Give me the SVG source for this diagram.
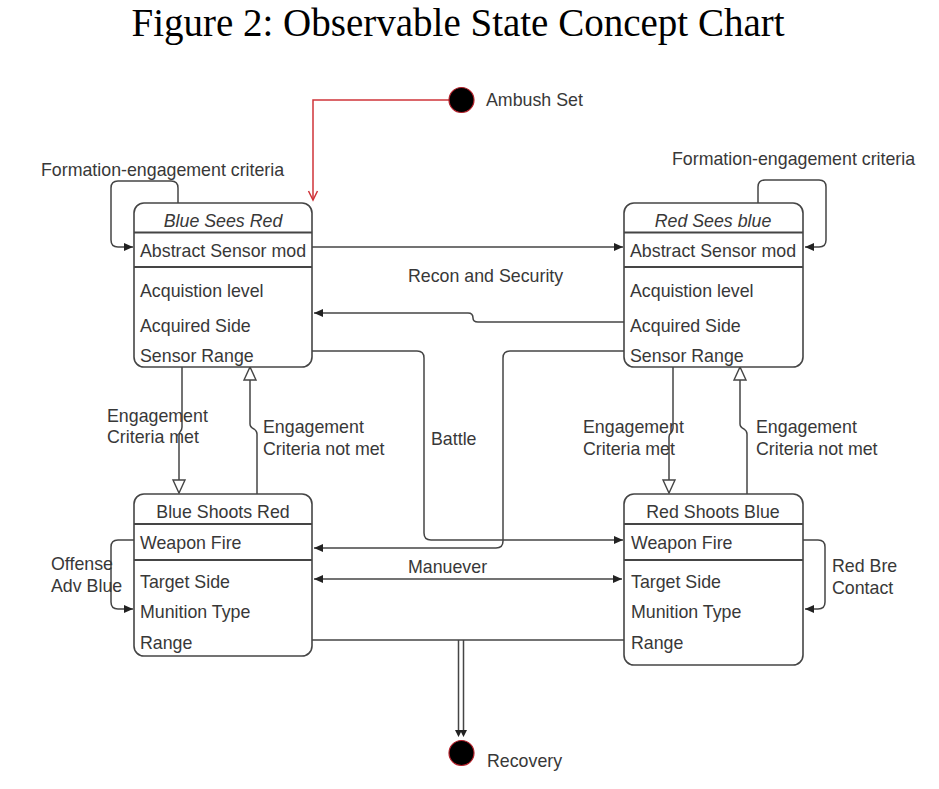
<svg xmlns="http://www.w3.org/2000/svg" width="939" height="789" viewBox="0 0 939 789">
<style>
.bg{fill:#fff}
.box{fill:#fff;stroke:#454545;stroke-width:1.6}
.div{stroke:#454545;stroke-width:1.8}
.ln{fill:none;stroke:#454545;stroke-width:1.5}
.red{fill:none;stroke:#d0343a;stroke-width:1.5}
.t{font-family:"Liberation Sans",Arial,sans-serif;font-size:17.8px;fill:#383838}
.h{text-anchor:middle}
.i{font-style:italic}
.title{font-family:"Liberation Serif","Times New Roman",serif;font-size:39px;fill:#000;text-anchor:middle}
.dot{fill:#000;stroke:#b3202a;stroke-width:1.2}
</style>
<defs>
<marker id="fa" markerUnits="userSpaceOnUse" markerWidth="12" markerHeight="12" refX="9" refY="4" orient="auto-start-reverse" overflow="visible">
<path d="M0,0 L9,4 L0,8 z" fill="#222"/>
</marker>
<marker id="ha" markerUnits="userSpaceOnUse" markerWidth="16" markerHeight="16" refX="13" refY="6" orient="auto" overflow="visible">
<path d="M0,0 L13,6 L0,12 z" fill="#fff" stroke="#454545" stroke-width="1.4"/>
</marker>
<marker id="ra" markerUnits="userSpaceOnUse" markerWidth="12" markerHeight="12" refX="9" refY="4.5" orient="auto" overflow="visible">
<path d="M0,0 L9,4.5 L0,9" fill="none" stroke="#d0343a" stroke-width="1.5"/>
</marker>
</defs>
<rect class="bg" x="0" y="0" width="939" height="789"/>
<text class="title" x="458" y="36">Figure 2: Observable State Concept Chart</text>

<g id="connectors">
<path class="red" d="M449,100 H313 V200" marker-end="url(#ra)"/>
<path class="ln" d="M178,203 V188 Q178,181 171,181 H118 Q111,181 111,188 V240 Q111,247 118,247 H133" marker-end="url(#fa)"/>
<path class="ln" d="M758,203 V187 Q758,180 765,180 H819 Q826,180 826,187 V240 Q826,247 819,247 H805" marker-end="url(#fa)"/>
<path class="ln" d="M312,247 H623" marker-end="url(#fa)"/>
<path class="ln" d="M624,322 H478 Q473,322 473,318 Q473,313 468,313 H314" marker-end="url(#fa)"/>
<path class="ln" d="M312,351 H417 Q424,351 424,358 V533 Q424,540 431,540 H623" marker-end="url(#fa)"/>
<path class="ln" d="M624,351 H510 Q503,351 503,358 V541 Q503,548 496,548 H314" marker-end="url(#fa)"/>
<path class="ln" d="M314,579 H622" marker-start="url(#fa)" marker-end="url(#fa)"/>
<path class="ln" d="M312,640 H624"/>
<path class="ln" d="M458.5,640 V731 M463.5,640 V731"/>
<path d="M455,730 L458.5,737 L462,730 z M460,730 L463.5,737 L467,730 z" fill="#222"/>
<path class="ln" d="M182,367 V427 Q182,430 180,432 Q179,433 179,436 V493" marker-end="url(#ha)"/>
<path class="ln" d="M257,494 V434 Q257,431 254,429 Q250,427 250,424 V367" marker-end="url(#ha)"/>
<path class="ln" d="M673,367 V428 Q673,431 671,433 Q669,434 669,437 V493" marker-end="url(#ha)"/>
<path class="ln" d="M747,494 V434 Q747,431 744,429 Q740,427 740,424 V367" marker-end="url(#ha)"/>
<path class="ln" d="M134,540 H118 Q111,540 111,547 V602 Q111,609 118,609 H133" marker-end="url(#fa)"/>
<path class="ln" d="M803,540 H818 Q825,540 825,547 V602 Q825,609 818,609 H805" marker-end="url(#fa)"/>
</g>

<g id="labels">
<text class="t" x="41" y="176">Formation-engagement criteria</text>
<text class="t" x="672" y="165">Formation-engagement criteria</text>
<text class="t" x="408" y="282">Recon and Security</text>
<text class="t" x="431" y="445">Battle</text>
<text class="t" x="408" y="573">Manuever</text>
<text class="t" x="107" y="422">Engagement</text>
<text class="t" x="107" y="443">Criteria met</text>
<text class="t" x="263" y="433">Engagement</text>
<text class="t" x="263" y="455">Criteria not met</text>
<text class="t" x="583" y="433">Engagement</text>
<text class="t" x="583" y="455">Criteria met</text>
<text class="t" x="756" y="433">Engagement</text>
<text class="t" x="756" y="455">Criteria not met</text>
<text class="t" x="51" y="570">Offense</text>
<text class="t" x="51" y="592">Adv Blue</text>
<text class="t" x="832" y="572">Red Bre</text>
<text class="t" x="832" y="594">Contact</text>
</g>

<g id="ambush">
<circle class="dot" cx="461.5" cy="100" r="12.5"/>
<text class="t" x="486" y="106">Ambush Set</text>
</g>

<g id="recovery">
<circle class="dot" cx="461.5" cy="753" r="12.5"/>
<text class="t" x="487" y="767">Recovery</text>
</g>

<g id="blue-sees-red">
<rect class="box" x="134" y="203" width="178" height="164" rx="10"/>
<line class="div" x1="134" y1="232.5" x2="312" y2="232.5"/>
<line class="div" x1="134" y1="267" x2="312" y2="267"/>
<text class="t h i" x="223" y="227">Blue Sees Red</text>
<text class="t" x="140" y="257">Abstract Sensor mod</text>
<text class="t" x="140" y="297">Acquistion level</text>
<text class="t" x="140" y="332">Acquired Side</text>
<text class="t" x="140" y="362">Sensor Range</text>
</g>

<g id="red-sees-blue">
<rect class="box" x="624" y="203" width="179" height="164" rx="10"/>
<line class="div" x1="624" y1="232.5" x2="803" y2="232.5"/>
<line class="div" x1="624" y1="267" x2="803" y2="267"/>
<text class="t h i" x="713" y="227">Red Sees blue</text>
<text class="t" x="630" y="257">Abstract Sensor mod</text>
<text class="t" x="630" y="297">Acquistion level</text>
<text class="t" x="630" y="332">Acquired Side</text>
<text class="t" x="630" y="362">Sensor Range</text>
</g>

<g id="blue-shoots-red">
<rect class="box" x="134" y="494" width="178" height="162" rx="10"/>
<line class="div" x1="134" y1="524" x2="312" y2="524"/>
<line class="div" x1="134" y1="560" x2="312" y2="560"/>
<text class="t h" x="223" y="518">Blue Shoots Red</text>
<text class="t" x="140" y="549">Weapon Fire</text>
<text class="t" x="140" y="588">Target Side</text>
<text class="t" x="140" y="618">Munition Type</text>
<text class="t" x="140" y="649">Range</text>
</g>

<g id="red-shoots-blue">
<rect class="box" x="624" y="494" width="179" height="171" rx="10"/>
<line class="div" x1="624" y1="524" x2="803" y2="524"/>
<line class="div" x1="624" y1="560" x2="803" y2="560"/>
<text class="t h" x="713" y="518">Red Shoots Blue</text>
<text class="t" x="631" y="549">Weapon Fire</text>
<text class="t" x="631" y="588">Target Side</text>
<text class="t" x="631" y="618">Munition Type</text>
<text class="t" x="631" y="649">Range</text>
</g>
</svg>
